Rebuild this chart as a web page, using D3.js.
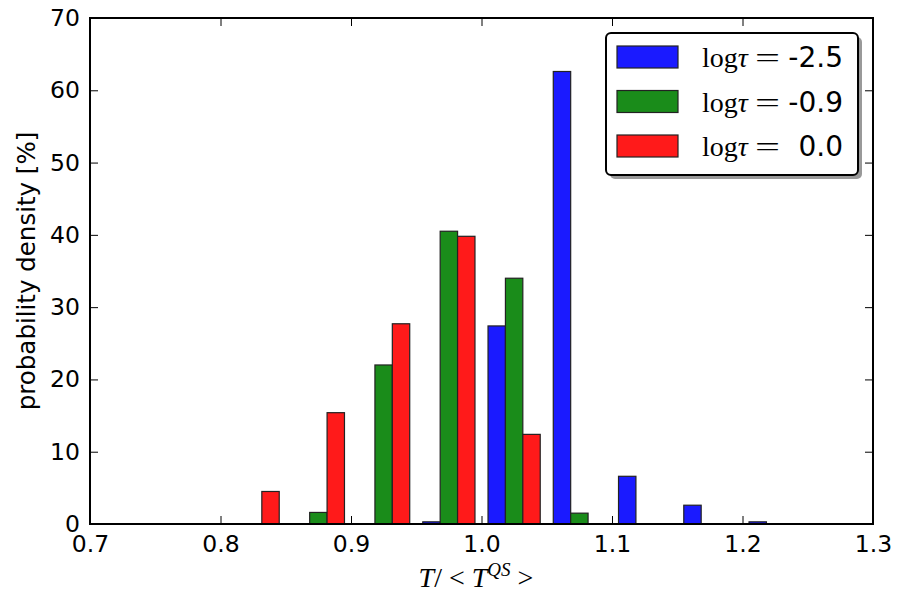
<!DOCTYPE html>
<html>
<head>
<meta charset="utf-8">
<script src="https://cdn.jsdelivr.net/npm/d3@7"></script>
<style>
  body { margin: 0; background: #fff; }
  svg { display: block; }
</style>
</head>
<body>
<div id="main"></div>
<script>
// bins (left edges), width 0.05
var binEdges = [0.80, 0.85, 0.90, 0.95, 1.00, 1.05, 1.10, 1.15, 1.20];
var binWidth = 0.05;
var seriesNames = ["-2.5", "-0.9", "0.0"];
var seriesColors = ["#1a1aff", "#1a8c1a", "#ff1a1a"];
var blueVals  = [0,   0,    0,    0.3,  27.4, 62.6, 6.6, 2.6, 0.3];
var greenVals = [0,   1.6,  22.0, 40.5, 34.0, 1.5,  0,   0,   0];
var redVals   = [4.5, 15.4, 27.7, 39.8, 12.4, 0,    0,   0,   0];
var xTicks = [0.7, 0.8, 0.9, 1.0, 1.1, 1.2, 1.3];
var yTicks = [0, 10, 20, 30, 40, 50, 60, 70];

var width = 900, height = 600;
var margin = {left: 90, right: 27, top: 18, bottom: 76};
var fs = 23.5;

function main () {
  const svg = d3.create("svg")
    .attr("width", width)
    .attr("height", height);

  const x = d3.scaleLinear().domain([0.7, 1.3]).range([margin.left, width - margin.right]);
  const y = d3.scaleLinear().domain([0, 70]).range([height - margin.bottom, margin.top]);

  const series = [blueVals, greenVals, redVals];
  const barW = binWidth * 0.8 / 3;

  // bars
  const g = svg.append("g");
  series.forEach((vals, si) => {
    g.selectAll(null)
      .data(binEdges.map((b, i) => ({b: b, v: vals[i]})).filter(d => d.v > 0))
      .join("rect")
        .attr("x", d => x(d.b + binWidth * 0.1 + si * barW))
        .attr("width", d => x(d.b + binWidth * 0.1 + (si + 1) * barW) - x(d.b + binWidth * 0.1 + si * barW))
        .attr("y", d => y(d.v))
        .attr("height", d => y(0) - y(d.v))
        .attr("fill", seriesColors[si])
        .attr("stroke", "#222")
        .attr("stroke-width", 1.2);
  });

  // axes (ticks inside, on all sides)
  const tickLen = 8;
  svg.append("g")
    .attr("transform", `translate(0,${y(0)})`)
    .call(d3.axisBottom(x).tickValues(xTicks).tickSize(-tickLen).tickPadding(11).tickFormat(d3.format(".1f")))
    .call(a => a.select(".domain").remove());
  svg.append("g")
    .attr("transform", `translate(0,${y(70)})`)
    .call(d3.axisTop(x).tickValues(xTicks).tickSize(-tickLen).tickFormat(""))
    .call(a => a.select(".domain").remove());
  svg.append("g")
    .attr("transform", `translate(${x(0.7)},0)`)
    .call(d3.axisLeft(y).tickValues(yTicks).tickSize(-tickLen).tickPadding(10))
    .call(a => a.select(".domain").remove());
  svg.append("g")
    .attr("transform", `translate(${x(1.3)},0)`)
    .call(d3.axisRight(y).tickValues(yTicks).tickSize(-tickLen).tickFormat(""))
    .call(a => a.select(".domain").remove());

  svg.selectAll(".tick line").attr("stroke", "#000").attr("stroke-width", 1);
  svg.selectAll(".tick text")
    .attr("font-family", "DejaVu Sans")
    .attr("font-size", fs)
    .attr("fill", "#000");

  svg.append("rect")
    .attr("x", x(0.7)).attr("y", y(70))
    .attr("width", x(1.3) - x(0.7)).attr("height", y(0) - y(70))
    .attr("fill", "none").attr("stroke", "#000").attr("stroke-width", 2);

  // axis labels
  svg.append("text")
    .attr("transform", `translate(35,${(y(0) + y(70)) / 2}) rotate(-90)`)
    .attr("text-anchor", "middle")
    .attr("font-family", "DejaVu Sans")
    .attr("font-size", 24.5)
    .text("probability density [%]");

  const xl = svg.append("text")
    .attr("x", 476)
    .attr("y", 587)
    .attr("text-anchor", "middle")
    .attr("font-family", "Liberation Serif")
    .attr("font-size", 28);
  xl.append("tspan").attr("font-style", "italic").text("T");
  xl.append("tspan").text("/ < ");
  xl.append("tspan").attr("font-style", "italic").text("T");
  xl.append("tspan").attr("font-style", "italic").attr("font-size", 19).attr("dy", -11).text("QS");
  xl.append("tspan").attr("dy", 11).text(" >");

  // legend
  const lg = svg.append("g").attr("transform", "translate(606,33)");
  lg.append("rect")
    .attr("x", 4).attr("y", 4).attr("width", 252).attr("height", 142)
    .attr("rx", 5).attr("fill", "#999");
  lg.append("rect")
    .attr("width", 252).attr("height", 142)
    .attr("rx", 5).attr("fill", "#fff").attr("stroke", "#000").attr("stroke-width", 2);
  const item = lg.selectAll("g.item")
    .data(seriesNames)
    .join("g")
      .attr("class", "item")
      .attr("transform", (d, i) => `translate(0,${24 + i * 44.5})`);
  item.append("rect")
    .attr("x", 11).attr("y", -11).attr("width", 61).attr("height", 22)
    .attr("fill", (d, i) => seriesColors[i])
    .attr("stroke", "#222").attr("stroke-width", 1.2);
  const t = item.append("text")
    .attr("x", 96).attr("y", 10)
    .attr("font-family", "Liberation Serif")
    .attr("font-size", 28);
  t.append("tspan").text("log");
  t.append("tspan").attr("font-style", "italic").text("τ");
  item.append("text")
    .attr("x", 149).attr("y", 10)
    .attr("font-family", "Liberation Serif")
    .attr("font-size", 28)
    .attr("textLength", 25).attr("lengthAdjust", "spacingAndGlyphs")
    .text("=");
  item.append("text")
    .attr("x", 237).attr("y", 10)
    .attr("text-anchor", "end")
    .attr("font-family", "DejaVu Sans")
    .attr("font-size", 28)
    .text(d => d);

  return svg.node();
}

document.getElementById("main").appendChild(main());
</script>
</body>
</html>
